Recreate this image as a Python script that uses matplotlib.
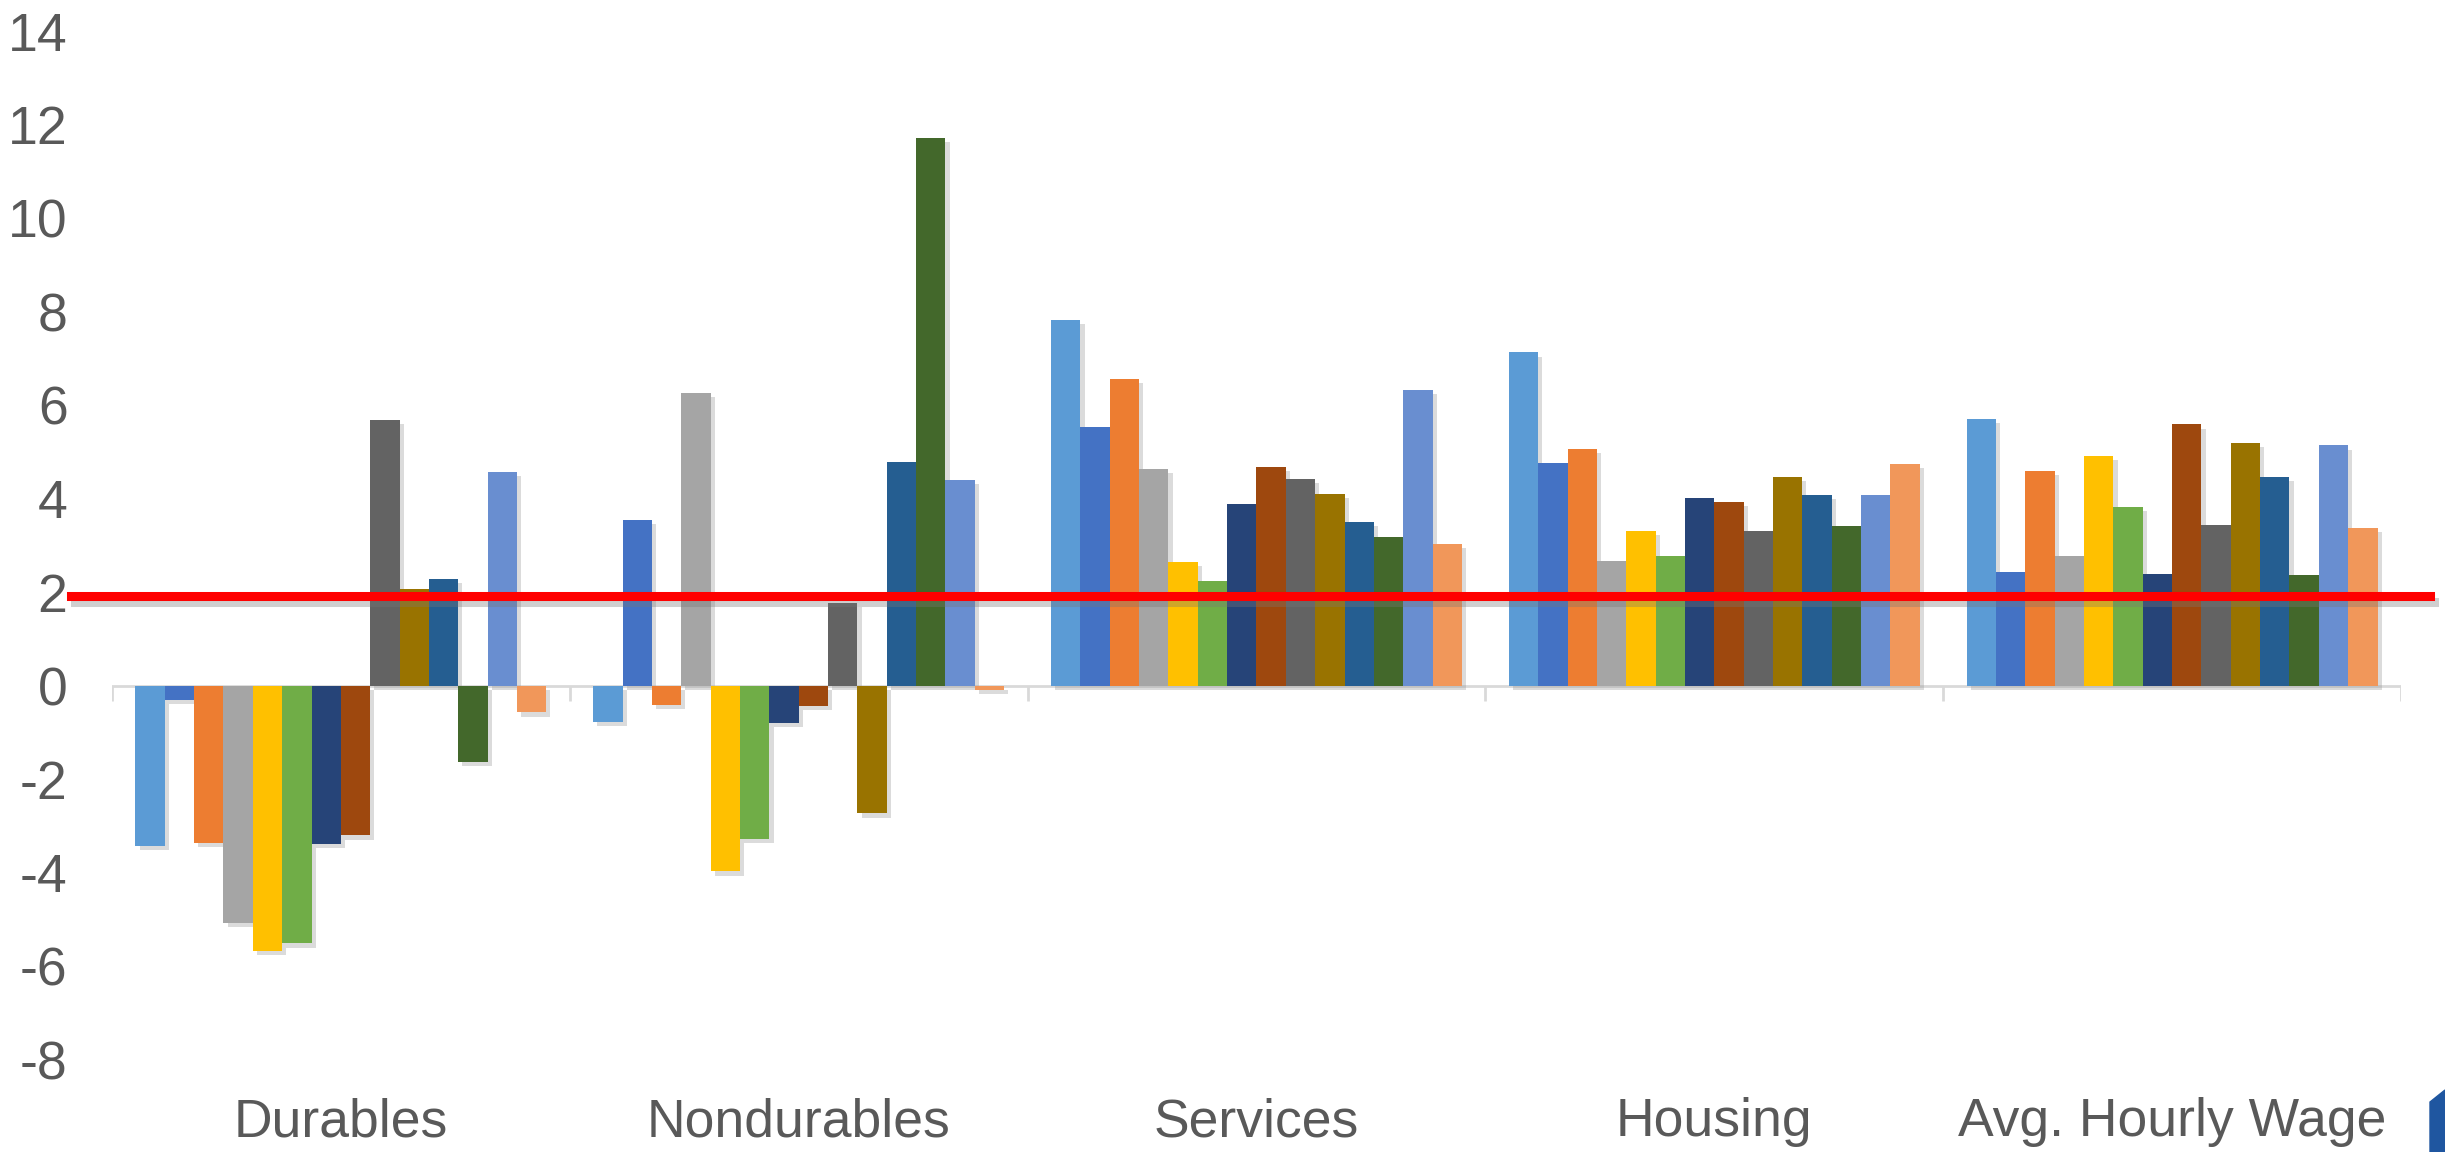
import numpy as np
import matplotlib.pyplot as plt
import matplotlib.patheffects as pe
from matplotlib.patches import Polygon

categories = ['Durables', 'Nondurables', 'Services', 'Housing', 'Avg. Hourly Wage']

# 14 series, one value per category
s01 = [-3.42, -0.78, 7.83, 7.13, 5.71]
s02 = [-0.31, 3.55, 5.53, 4.76, 2.44]
s03 = [-3.36, -0.41, 6.56, 5.06, 4.59]
s04 = [-5.07, 6.26, 4.64, 2.66, 2.78]
s05 = [-5.67, -3.97, 2.65, 3.31, 4.91]
s06 = [-5.51, -3.27, 2.24, 2.77, 3.82]
s07 = [-3.39, -0.80, 3.88, 4.01, 2.39]
s08 = [-3.20, -0.44, 4.68, 3.93, 5.59]
s09 = [5.68, 1.77, 4.42, 3.30, 3.44]
s10 = [2.07, -2.73, 4.10, 4.47, 5.19]
s11 = [2.29, 4.79, 3.50, 4.08, 4.46]
s12 = [-1.63, 11.71, 3.18, 3.42, 2.36]
s13 = [4.58, 4.40, 6.32, 4.07, 5.14]
s14 = [-0.57, -0.09, 3.03, 4.74, 3.38]
series = [s01, s02, s03, s04, s05, s06, s07, s08, s09, s10, s11, s12, s13, s14]

target = 1.92

colors = ['#5B9BD5', '#4472C4', '#ED7D31', '#A5A5A5', '#FFC000', '#70AD47',
          '#264478', '#9E480E', '#636363', '#997300', '#255E91', '#43682B',
          '#698ED0', '#F1975A']

plt.rcParams['font.family'] = ['Liberation Sans', 'DejaVu Sans']
plt.rcParams['axes.unicode_minus'] = False

fig = plt.figure(figsize=(24.45, 11.52), dpi=100)
ax = fig.add_axes([0.0458, 0.080, 0.9362, 0.893])

x = np.arange(len(categories))
n = len(series)
w = 1 / (n + 1.6)
shadow = [pe.SimplePatchShadow(offset=(3, -3), shadow_rgbFace='#999999', alpha=0.35), pe.Normal()]
for i, vals in enumerate(series):
    off = (i - (n - 1) / 2) * w
    bars = ax.bar(x + off, vals, width=w, color=colors[i], zorder=3)
    for b in bars:
        b.set_path_effects(shadow)

ax.set_xlim(-0.5, len(categories) - 0.5)
ax.set_ylim(-8, 14)
ax.set_yticks(np.arange(-8, 15, 2))

# category axis crossing at zero
ax.axhline(0, color='#D9D9D9', lw=2, zorder=2)
ax.vlines(np.arange(len(categories) + 1) - 0.5, -0.33, 0, color='#D9D9D9', lw=2, zorder=2)

ax.axhline(target, xmin=-0.018, xmax=1.0127, color='#FF0000', lw=6.5, zorder=5, clip_on=False,
           path_effects=[pe.SimpleLineShadow(offset=(3, -4), shadow_color='#777777', alpha=0.35), pe.Normal()])

ax.set_xticks(x)
ax.set_xticklabels(categories)
for s in ax.spines.values():
    s.set_visible(False)
ax.tick_params(axis='both', length=0, labelsize=38.5, labelcolor='#595959')
ax.tick_params(axis='y', pad=32)
ax.tick_params(axis='x', pad=27)

# corner of a logo cut off at bottom right
fig.patches.append(Polygon([(2430 / 2445, 0), (2430 / 2445, 50 / 1152), (1, 62 / 1152), (1, 0)],
                           closed=True, transform=fig.transFigure, color='#1F56A0'))

fig.savefig('out.png', dpi=100)
